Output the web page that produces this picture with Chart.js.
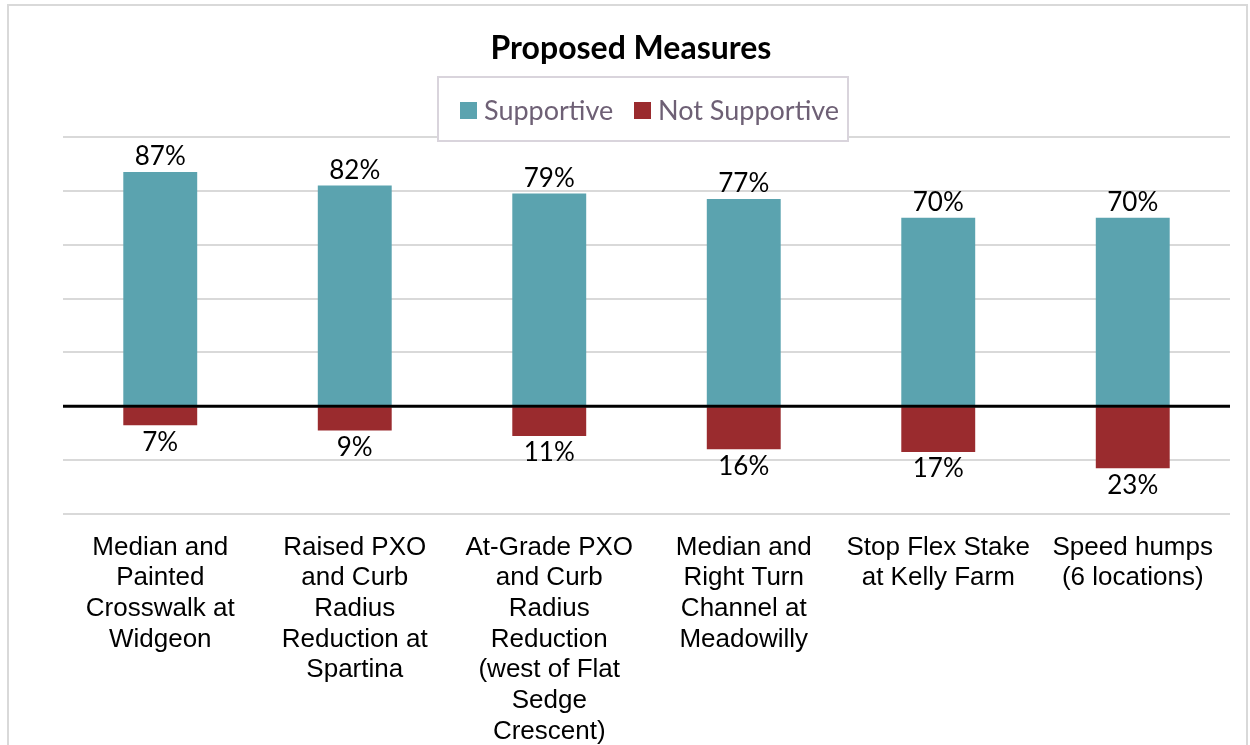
<!DOCTYPE html>
<html>
<head>
<meta charset="utf-8">
<script src="https://cdn.jsdelivr.net/npm/chart.js@4/dist/chart.umd.min.js"></script>
<style>
    body { margin: 0; background: #fff; }
    #wrap { width: 1250px; height: 745px; }
</style>
</head>
<body>
<div id="wrap"><canvas id="medidasChart"></canvas></div>
<script>
let medidas = [
    ["Median and", "Painted", "Crosswalk at", "Widgeon"],
    ["Raised PXO", "and Curb", "Radius", "Reduction at", "Spartina"],
    ["At-Grade PXO", "and Curb", "Radius", "Reduction", "(west of Flat", "Sedge", "Crescent)"],
    ["Median and", "Right Turn", "Channel at", "Meadowilly"],
    ["Stop Flex Stake", "at Kelly Farm"],
    ["Speed humps", "(6 locations)"]
];
let apoyo = [87, 82, 79, 77, 70, 70];
let noApoyo = [7, 9, 11, 16, 17, 23];
let series = ["Supportive", "Not Supportive"];
let colores = ["#5ba3af", "#9a2b2e"];

let chart = null;

function cargarGrafica() {
    let ctx = document.getElementById("medidasChart").getContext("2d");

    if (chart !== null) {
        chart.destroy();
    }

    chart = new Chart(ctx, {
        type: "bar",
        data: {
            labels: medidas,
            datasets: [{
                label: series[0],
                data: apoyo,
                backgroundColor: colores[0]
            }, {
                label: series[1],
                data: noApoyo.map(v => -v), // hacia abajo
                backgroundColor: colores[1]
            }]
        },
        options: {
            responsive: true,
            maintainAspectRatio: false,
            animation: false,
            layout: {
                padding: { top: 137, left: 63, right: 20, bottom: 0 }
            },
            datasets: {
                bar: { categoryPercentage: 1, barPercentage: 0.38 }
            },
            scales: {
                x: {
                    stacked: true,
                    grid: { display: false },
                    border: { display: false },
                    ticks: {
                        maxRotation: 0,
                        autoSkip: false,
                        padding: 10,
                        color: "#000",
                        font: { family: "Liberation Sans", size: 26, lineHeight: 1.18 }
                    },
                    afterFit: function (scale) { scale.height = 231; }
                },
                y: {
                    stacked: true,
                    min: -40,
                    max: 100,
                    ticks: { display: false, stepSize: 20 },
                    border: { display: false },
                    grid: { color: "#d9d9d9", lineWidth: 2, drawTicks: false },
                    afterFit: function (scale) { scale.width = 0; }
                }
            },
            plugins: {
                legend: { display: false },
                tooltip: { enabled: false }
            }
        },
        plugins: [{
            beforeDraw: function (chart) {
                let c = chart.ctx;
                c.save();
                c.fillStyle = "#fff";
                c.fillRect(0, 0, chart.width, chart.height);
                c.strokeStyle = "#d9d9d9";
                c.lineWidth = 2;
                c.strokeRect(8, 5, 1239, 760); // marco del grafico
                c.restore();
            },
            afterDatasetsDraw: function (chart) {
                let c = chart.ctx;
                let area = chart.chartArea;
                let y0 = chart.scales.y.getPixelForValue(0);

                // linea del cero
                c.save();
                c.strokeStyle = "#000";
                c.lineWidth = 3;
                c.beginPath();
                c.moveTo(area.left, y0);
                c.lineTo(area.right, y0);
                c.stroke();

                // etiquetas de porcentaje
                c.fillStyle = "#000";
                c.font = "26px Lato";
                c.textAlign = "center";
                chart.getDatasetMeta(0).data.forEach((bar, i) => {
                    c.textBaseline = "bottom";
                    c.fillText(apoyo[i] + "%", bar.x, bar.y - 2);
                });
                chart.getDatasetMeta(1).data.forEach((bar, i) => {
                    c.textBaseline = "top";
                    c.fillText(noApoyo[i] + "%", bar.x, bar.y + 4);
                });

                // titulo
                c.font = "bold 32px Lato";
                c.textBaseline = "middle";
                c.fillText("Proposed Measures", 631, 49);

                // leyenda con marco
                c.fillStyle = "#fff";
                c.fillRect(438, 77, 410, 64);
                c.strokeStyle = "#d9d4dc";
                c.lineWidth = 2;
                c.strokeRect(438, 77, 410, 64);
                c.font = "27px Lato";
                c.textAlign = "left";
                let xs = [460, 634];
                series.forEach((s, i) => {
                    c.fillStyle = colores[i];
                    c.fillRect(xs[i], 102, 17, 17);
                    c.fillStyle = "#6e6075";
                    c.fillText(s, xs[i] + 24, 111);
                });
                c.restore();
            }
        }]
    });
}

cargarGrafica();
</script>
</body>
</html>
